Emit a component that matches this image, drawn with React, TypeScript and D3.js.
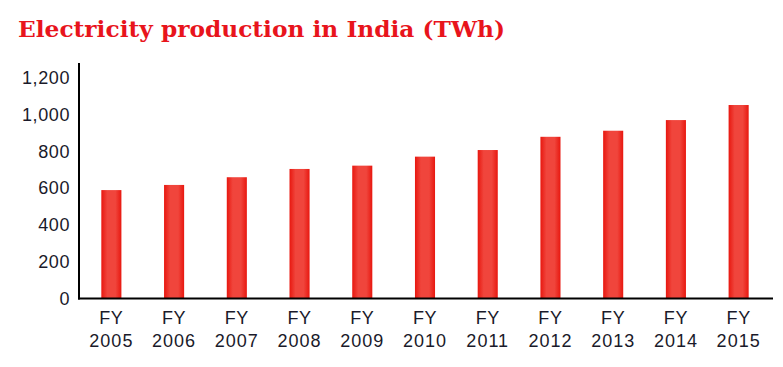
import React from "react";
import * as d3 from "d3";

const categories = ["2005", "2006", "2007", "2008", "2009", "2010", "2011", "2012", "2013", "2014", "2015"];
const values = [590, 618, 660, 705, 723, 772, 808, 880, 913, 971, 1053];
const yTicks = [0, 200, 400, 600, 800, 1000, 1200];
const title = "Electricity production in India (TWh)";

export default function App() {
  const W = 783, H = 367;
  const x = d3.scaleBand<string>().domain(categories).range([80, 770]).paddingInner(0.68).paddingOuter(0.34);
  const y = d3.scaleLinear().domain([0, 1200]).range([298.5, 78]);
  const fmt = d3.format(",");
  const sans = "'Liberation Sans', Arial, sans-serif";
  return (
    <svg width={W} height={H} style={{ position: "absolute", left: 0, top: 0, background: "#fff" }}>
      <defs>
        <linearGradient id="barGrad" x1="0" x2="1" y1="0" y2="0">
          <stop offset="0" stopColor="#e8170f" />
          <stop offset="0.3" stopColor="#f0453c" />
          <stop offset="0.7" stopColor="#f0453c" />
          <stop offset="1" stopColor="#e8170f" />
        </linearGradient>
      </defs>
      <text x={18} y={37} fill="#e8141c" fontFamily="'DejaVu Serif', 'Liberation Serif', serif" fontWeight="bold" fontSize={22} textLength={487} lengthAdjust="spacingAndGlyphs">
        {title}
      </text>
      {categories.map((c, i) => (
        <rect key={c} x={x(c)} width={x.bandwidth()} y={y(values[i])} height={y(0) - y(values[i])} fill="url(#barGrad)" />
      ))}
      <line x1={79} x2={79} y1={63} y2={299.5} stroke="#000" strokeWidth={2} />
      <line x1={78} x2={773} y1={298.5} y2={298.5} stroke="#000" strokeWidth={2} />
      {yTicks.map((t) => (
        <text key={t} x={70} y={y(t) + 6} textAnchor="end" fill="#1a1a2a" fontFamily={sans} fontSize={18} letterSpacing={0.6}>
          {fmt(t)}
        </text>
      ))}
      {categories.map((c) => (
        <g key={c} transform={`translate(${(x(c) as number) + x.bandwidth() / 2},0)`}>
          <text y={324} textAnchor="middle" fill="#1a1a2a" fontFamily={sans} fontSize={18} letterSpacing={0.6}>FY</text>
          <text y={347} textAnchor="middle" fill="#1a1a2a" fontFamily={sans} fontSize={18} letterSpacing={1}>{c}</text>
        </g>
      ))}
    </svg>
  );
}
